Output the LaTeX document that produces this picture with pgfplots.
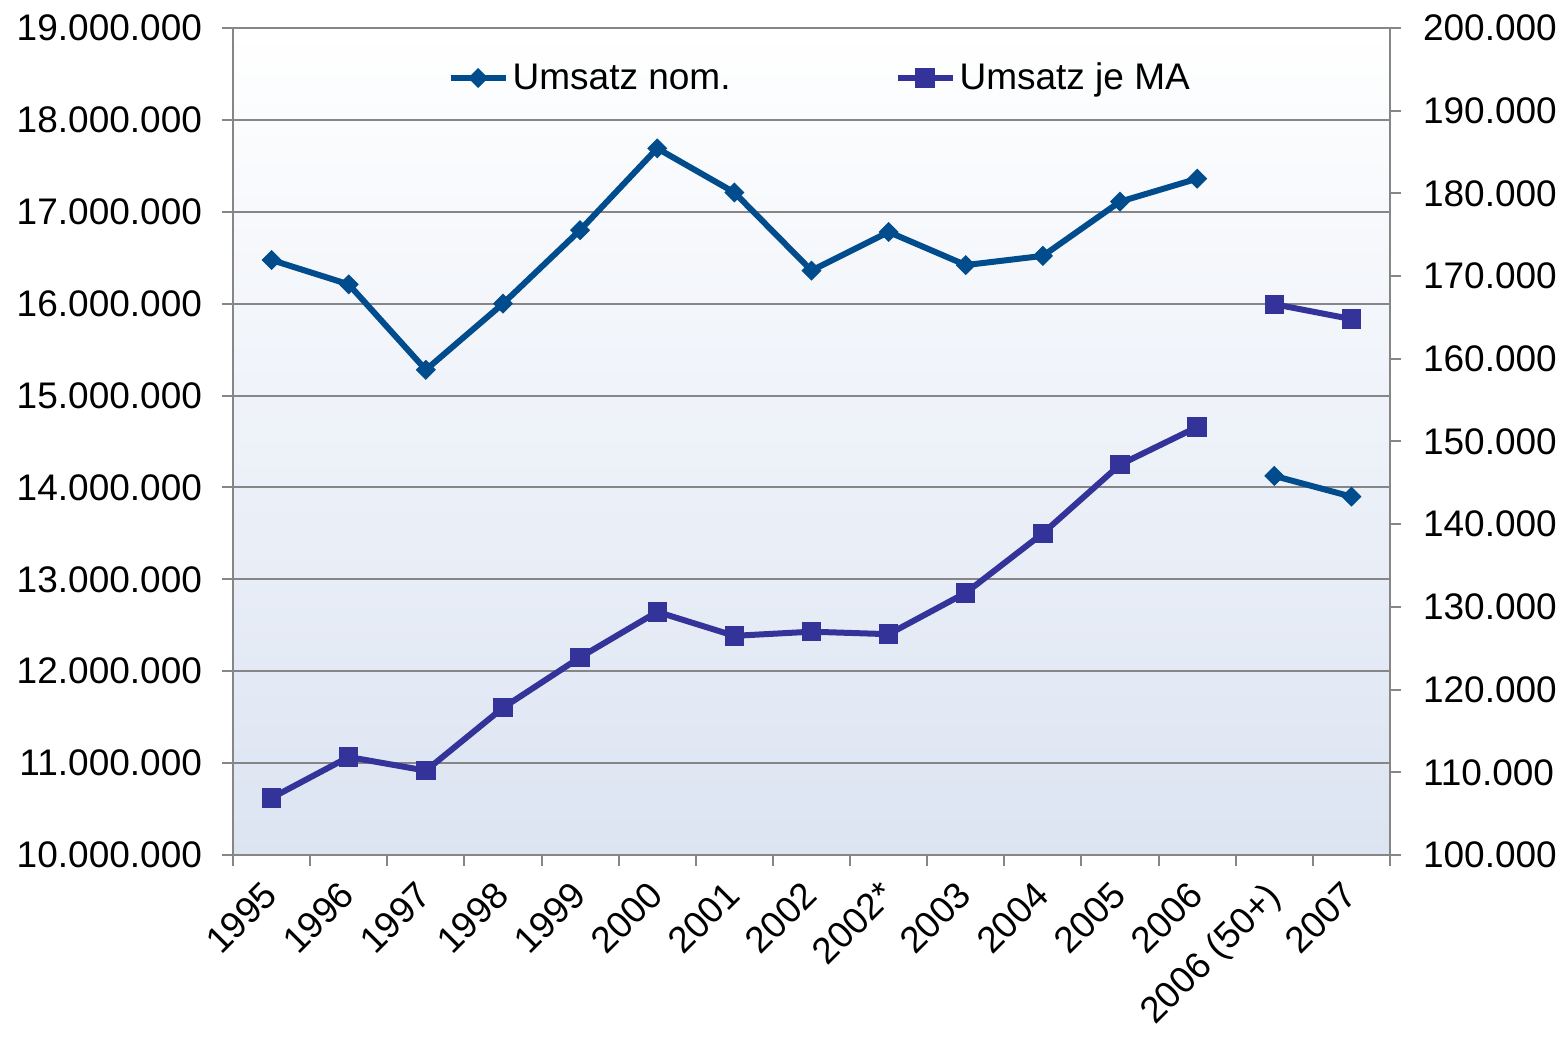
\documentclass[border=0pt]{standalone}
\usepackage{fontspec}
\setmainfont{Liberation Sans}
\usepackage{pgfplots}
\pgfplotsset{compat=1.18}
\definecolor{nomblue}{RGB}{0,76,140}
\definecolor{mablue}{RGB}{51,51,153}
\definecolor{axgray}{RGB}{134,134,134}
\definecolor{bgbot}{RGB}{220,228,242}

\pgfplotsset{
  base/.style={
    scale only axis, width=578.5pt, height=413.5pt,
    at={(0,0)}, anchor=south west,
    xmin=-0.5, xmax=14.5,
    tick align=outside,
    major tick length=5.5pt,
    tick style={axgray, line width=1pt},
    axis line style={axgray, line width=1pt},
    tick label style={font=\fontsize{18.5}{22}\selectfont},
    scaled y ticks=false,
    /pgf/number format/assume math mode=true,
    /pgf/number format/fixed,
    /pgf/number format/1000 sep={.},
  },
  nomstyle/.style={color=nomblue, line width=3pt, mark=square*,
    mark size=3.3pt, mark options={rotate=45, line width=0.5pt, solid}},
  mastyle/.style={color=mablue, line width=3pt, mark=square*,
    mark size=4.6pt, mark options={line width=0.5pt, solid}},
}

\begin{document}
\begin{tikzpicture}
\begin{axis}[base,
  ymin=10000000, ymax=19000000,
  ytick={10000000,11000000,12000000,13000000,14000000,15000000,16000000,17000000,18000000,19000000},
  ytick pos=left,
  yticklabel style={xshift=-6.5pt},
  ymajorgrids, grid style={axgray, line width=1pt},
  axis background/.style={shade, top color=white, bottom color=bgbot},
  xtick={-0.5,0.5,...,14.5}, xticklabels={},
  xtick pos=bottom,
  extra x ticks={0,1,2,3,4,5,6,7,8,9,10,11,12,13,14},
  extra x tick labels={1995,1996,1997,1998,1999,2000,2001,2002,2002*,2003,2004,2005,2006,2006 (50+),2007},
  extra x tick style={tick style={draw=none}},
  xticklabel style={rotate=45, anchor=north east, xshift=-5pt, yshift=2.5pt},
]
\addplot[nomstyle] coordinates {
(0,16475000) (1,16210000) (2,15280000) (3,16000000) (4,16800000)
(5,17690000) (6,17210000) (7,16360000) (8,16780000) (9,16420000)
(10,16520000) (11,17110000) (12,17360000)};
\addplot[nomstyle] coordinates {(13,14125000) (14,13900000)};
\end{axis}
\begin{axis}[base,
  ymin=100000, ymax=200000,
  ytick={100000,110000,120000,130000,140000,150000,160000,170000,180000,190000,200000},
  axis y line*=right, axis x line=none,
  yticklabel style={xshift=7.5pt},
  legend columns=2,
  legend style={at={(0.508,0.9395)}, anchor=center, draw=none, fill=none,
    font=\fontsize{18.5}{22}\selectfont,
    /tikz/every even column/.append style={column sep=80pt}},
  legend image code/.code={\draw[mark repeat=2,mark phase=2,#1] plot coordinates {(0pt,0pt) (13.75pt,0pt) (27.5pt,0pt)};},
]
\addlegendimage{nomstyle}
\addlegendentry{Umsatz nom.}
\addplot[mastyle] coordinates {
(0,106900) (1,111850) (2,110200) (3,117800) (4,123900)
(5,129400) (6,126500) (7,127000) (8,126700) (9,131700)
(10,138900) (11,147200) (12,151750)};
\addlegendentry{Umsatz je MA}
\addplot[mastyle, forget plot] coordinates {(13,166600) (14,164800)};
\end{axis}
\pgfresetboundingbox
\path[use as bounding box] (-116.5pt,-91pt) rectangle (665.5pt,427.5pt);
\end{tikzpicture}
\end{document}
